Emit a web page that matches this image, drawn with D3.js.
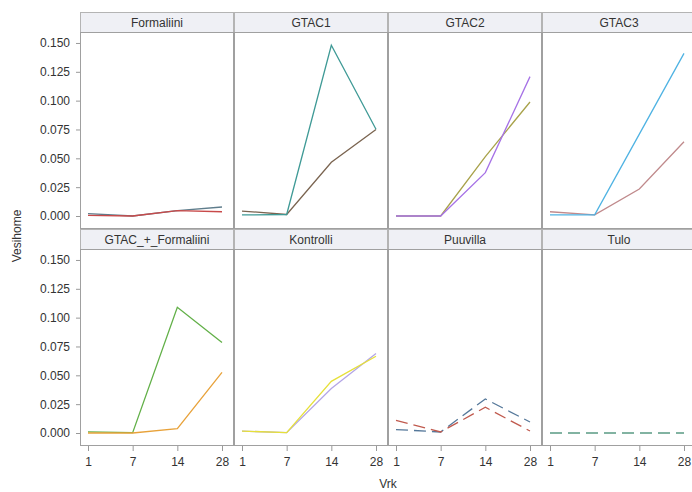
<!DOCTYPE html>
<html>
<head>
<meta charset="utf-8">
<script src="https://cdn.jsdelivr.net/npm/d3@7"></script>
<style>
  body { margin: 0; background: #fff; }
  svg { display: block; font-family: "Liberation Sans", Arial, sans-serif; }
</style>
</head>
<body>
<div id="chart"></div>
<script>
// days on the x axis
var days = ["1", "7", "14", "28"];
var panels = ["Formaliini", "GTAC1", "GTAC2", "GTAC3",
              "GTAC_+_Formaliini", "Kontrolli", "Puuvilla", "Tulo"];
var yTicks = [0, 0.025, 0.05, 0.075, 0.1, 0.125, 0.15];

// two series per panel
var formaliiniA = [0.0020, 0.0000, 0.0046, 0.0078];
var formaliiniB = [0.0006, 0.0000, 0.0046, 0.0037];
var gtac1A = [0.0009, 0.0013, 0.1480, 0.0752];
var gtac1B = [0.0043, 0.0013, 0.0466, 0.0750];
var gtac2A = [0.0000, 0.0000, 0.0376, 0.1208];
var gtac2B = [0.0000, 0.0000, 0.0515, 0.0988];
var gtac3A = [0.0010, 0.0010, 0.0710, 0.1410];
var gtac3B = [0.0037, 0.0010, 0.0234, 0.0644];
var gtacFormA = [0.0009, 0.0003, 0.1090, 0.0784];
var gtacFormB = [0.0000, 0.0000, 0.0038, 0.0526];
var kontrolliA = [0.0017, 0.0003, 0.0448, 0.0665];
var kontrolliB = [0.0017, 0.0003, 0.0385, 0.0690];
var puuvillaA = [0.0030, 0.0009, 0.0295, 0.0095];
var puuvillaB = [0.0110, 0.0009, 0.0223, 0.0017];
var tuloA = [0.0000, 0.0000, 0.0000, 0.0000];

var panelSeries = [
  [{v: formaliiniA, c: "#5f7d8c"}, {v: formaliiniB, c: "#c84a4a"}],
  [{v: gtac1B, c: "#7a6450"}, {v: gtac1A, c: "#3f9a96"}],
  [{v: gtac2B, c: "#a8a24a"}, {v: gtac2A, c: "#a672e6"}],
  [{v: gtac3B, c: "#c08a8c"}, {v: gtac3A, c: "#4fb3e3"}],
  [{v: gtacFormA, c: "#62b048"}, {v: gtacFormB, c: "#e8a23a"}],
  [{v: kontrolliB, c: "#b4a6e6"}, {v: kontrolliA, c: "#e6e03a"}],
  [{v: puuvillaA, c: "#55789a", dash: "12,6"}, {v: puuvillaB, c: "#c05a4e", dash: "12,6"}],
  [{v: tuloA, c: "#5a9a84", dash: "12,6"}]
];

var svgWidth = 692, svgHeight = 492;
var left = 80, colW = 154, plotH = 196, headH = 20;
var rowTop = [12, 229];

var svg = d3.select("#chart").append("svg")
    .attr("width", svgWidth)
    .attr("height", svgHeight);

var x = d3.scalePoint().domain(days).range([8, 142]);
var y = d3.scaleLinear().domain([-0.0104, 0.1595]).range([plotH, 0]);

var line = d3.line()
    .x(function(d, i) { return x(days[i]); })
    .y(function(d) { return y(d); });

panels.forEach(function(name, p) {
  var col = p % 4, row = Math.floor(p / 4);
  var g = svg.append("g")
      .attr("transform", "translate(" + (left + col * colW) + "," + rowTop[row] + ")");

  // header strip
  g.append("rect")
      .attr("x", 0.5).attr("y", 0.5)
      .attr("width", colW - 1).attr("height", headH)
      .attr("fill", "#eff0f5")
      .attr("stroke", "#b4b4b4");
  g.append("text")
      .attr("x", colW / 2).attr("y", headH / 2 + 1)
      .attr("text-anchor", "middle")
      .attr("dominant-baseline", "central")
      .attr("font-size", 12)
      .attr("fill", "#333")
      .text(name);

  var plot = g.append("g").attr("transform", "translate(0," + headH + ")");
  plot.append("rect")
      .attr("x", 0.5).attr("y", 0.5)
      .attr("width", colW - 1).attr("height", plotH)
      .attr("fill", "#fff")
      .attr("stroke", "#a0a0a0");

  panelSeries[p].forEach(function(s) {
    plot.append("path")
        .datum(s.v)
        .attr("d", line)
        .attr("fill", "none")
        .attr("stroke", s.c)
        .attr("stroke-width", 1.3)
        .attr("stroke-dasharray", s.dash || null);
  });

  // y axis on the left column
  if (col === 0) {
    var ya = plot.append("g")
        .call(d3.axisLeft(y).tickValues(yTicks).tickFormat(d3.format(".3f")).tickSize(4).tickPadding(6));
    ya.select(".domain").remove();
    ya.selectAll("line").attr("stroke", "#999");
    ya.selectAll("text").attr("font-size", 12).attr("fill", "#333")
        .attr("font-family", "Liberation Sans, Arial, sans-serif");
  }
  // x axis on the bottom row
  if (row === 1) {
    var xa = plot.append("g")
        .attr("transform", "translate(0," + (plotH + 1) + ")")
        .call(d3.axisBottom(x).tickSize(5).tickPadding(6));
    xa.select(".domain").remove();
    xa.selectAll("line").attr("stroke", "#999");
    xa.selectAll("text").attr("font-size", 12).attr("fill", "#333")
        .attr("font-family", "Liberation Sans, Arial, sans-serif");
  }
});

// axis titles
svg.append("text")
    .attr("transform", "translate(21,236) rotate(-90)")
    .attr("text-anchor", "middle")
    .attr("font-size", 12)
    .attr("fill", "#333")
    .text("Vesihome");

svg.append("text")
    .attr("x", left + 2 * colW)
    .attr("y", 488)
    .attr("text-anchor", "middle")
    .attr("font-size", 12)
    .attr("fill", "#333")
    .text("Vrk");
</script>
</body>
</html>
